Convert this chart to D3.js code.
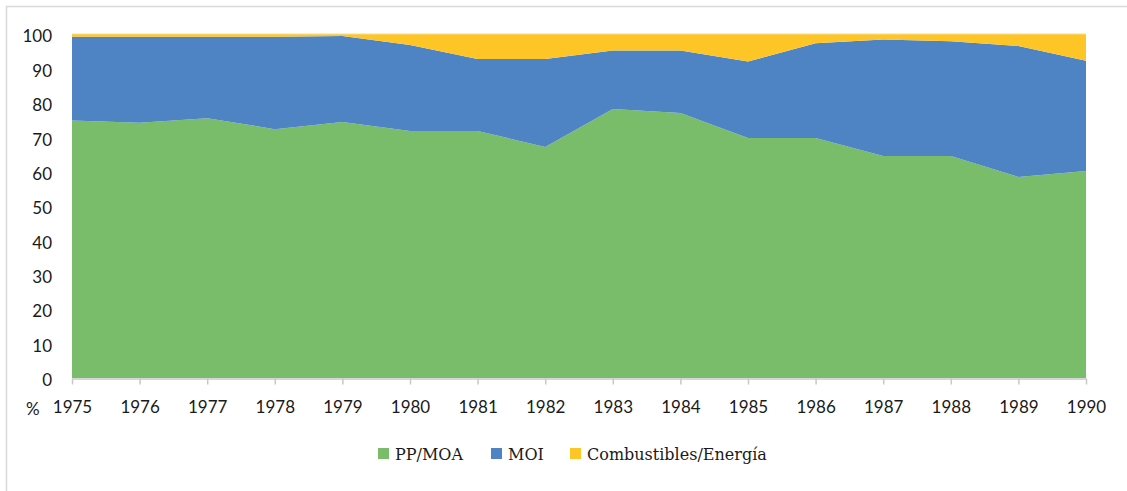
<!DOCTYPE html>
<html>
<head>
<meta charset="utf-8">
<title>Exportaciones por rubro 1975-1990</title>
<script src="https://d3js.org/d3.v7.min.js"></script>
<style>
  body { margin: 0; background: #fff; }
  .tick text { font-family: Lato, "Liberation Sans", sans-serif; font-size: 17px; fill: #1a1a1a; }
  .legend text { font-family: "DejaVu Serif", "Liberation Serif", serif; font-size: 16px; fill: #1a1a1a; }
</style>
</head>
<body>
<svg width="1127" height="491"></svg>
<script>
// años y participación (%) de cada rubro
var years = [1975, 1976, 1977, 1978, 1979, 1980, 1981, 1982, 1983, 1984, 1985, 1986, 1987, 1988, 1989, 1990];
var ppmoa = [74.9, 74.3, 75.6, 72.4, 74.5, 71.9, 71.9, 67.2, 78.3, 77.1, 69.8, 69.8, 64.6, 64.6, 58.5, 60.2];
var moi   = [24.4, 25.0, 23.7, 26.9, 25.0, 25.0, 20.9, 25.6, 17.0, 18.2, 22.3, 27.6, 33.9, 33.4, 38.1, 32.1];
var comb  = [0.7, 0.7, 0.7, 0.7, 0.5, 3.1, 7.2, 7.2, 4.7, 4.7, 7.9, 2.6, 1.5, 2.0, 3.4, 7.7];
var yTicks = [0, 10, 20, 30, 40, 50, 60, 70, 80, 90, 100];

var series = ["PP/MOA", "MOI", "Combustibles/Energía"];
var colors = ["#79bc6a", "#4f84c4", "#fec526"];

var svg = d3.select("svg");

// marco
svg.append("rect")
  .attr("x", 6.5).attr("y", 6.5)
  .attr("width", 1140).attr("height", 500)
  .attr("fill", "none").attr("stroke", "#d9d9d9").attr("stroke-width", 1.5);

var x = d3.scaleLinear().domain([1975, 1990]).range([72, 1086]);
var y = d3.scaleLinear().domain([0, 100]).range([378, 34.3]);

var table = years.map(function (yr, i) {
  return { year: yr, "PP/MOA": ppmoa[i], "MOI": moi[i], "Combustibles/Energía": comb[i] };
});
var stacked = d3.stack().keys(series)(table);

var area = d3.area()
  .x(function (d) { return x(d.data.year); })
  .y0(function (d) { return y(d[0]); })
  .y1(function (d) { return y(d[1]); });

// borde superior del área de trazado
svg.append("line")
  .attr("x1", x(1975)).attr("x2", x(1990))
  .attr("y1", y(100) - 0.5).attr("y2", y(100) - 0.5)
  .attr("stroke", "#e6e6e6").attr("stroke-width", 1);

svg.selectAll("path.area")
  .data(stacked)
  .enter().append("path")
  .attr("class", "area")
  .attr("d", area)
  .attr("fill", function (d, i) { return colors[i]; });

// eje y
var yAxis = svg.append("g")
  .attr("transform", "translate(" + 72 + ",0)")
  .call(d3.axisLeft(y).tickValues(yTicks).tickSize(0).tickPadding(20));
yAxis.select(".domain").remove();
yAxis.selectAll(".tick text").attr("dy", "0.45em");

// eje x
var xAxis = svg.append("g")
  .attr("transform", "translate(0," + 378.5 + ")")
  .call(d3.axisBottom(x).tickValues(years).tickFormat(d3.format("d")).tickSize(6).tickSizeOuter(0).tickPadding(16));
xAxis.select(".domain").attr("stroke", "#c8c8c8").attr("stroke-width", 1.5);
xAxis.selectAll(".tick line").attr("stroke", "#c8c8c8").attr("stroke-width", 1.5);

svg.append("text")
  .attr("x", 26).attr("y", 415)
  .style("font-family", "Lato, 'Liberation Sans', sans-serif")
  .style("font-size", "17px").attr("fill", "#1a1a1a")
  .text("%");

// leyenda
var legendX = [378, 491, 570];
var legend = svg.append("g").attr("class", "legend");
series.forEach(function (s, i) {
  legend.append("rect")
    .attr("x", legendX[i]).attr("y", 448)
    .attr("width", 11).attr("height", 11)
    .attr("fill", colors[i]);
  legend.append("text")
    .attr("x", legendX[i] + 17).attr("y", 460)
    .text(s);
});
</script>
</body>
</html>
